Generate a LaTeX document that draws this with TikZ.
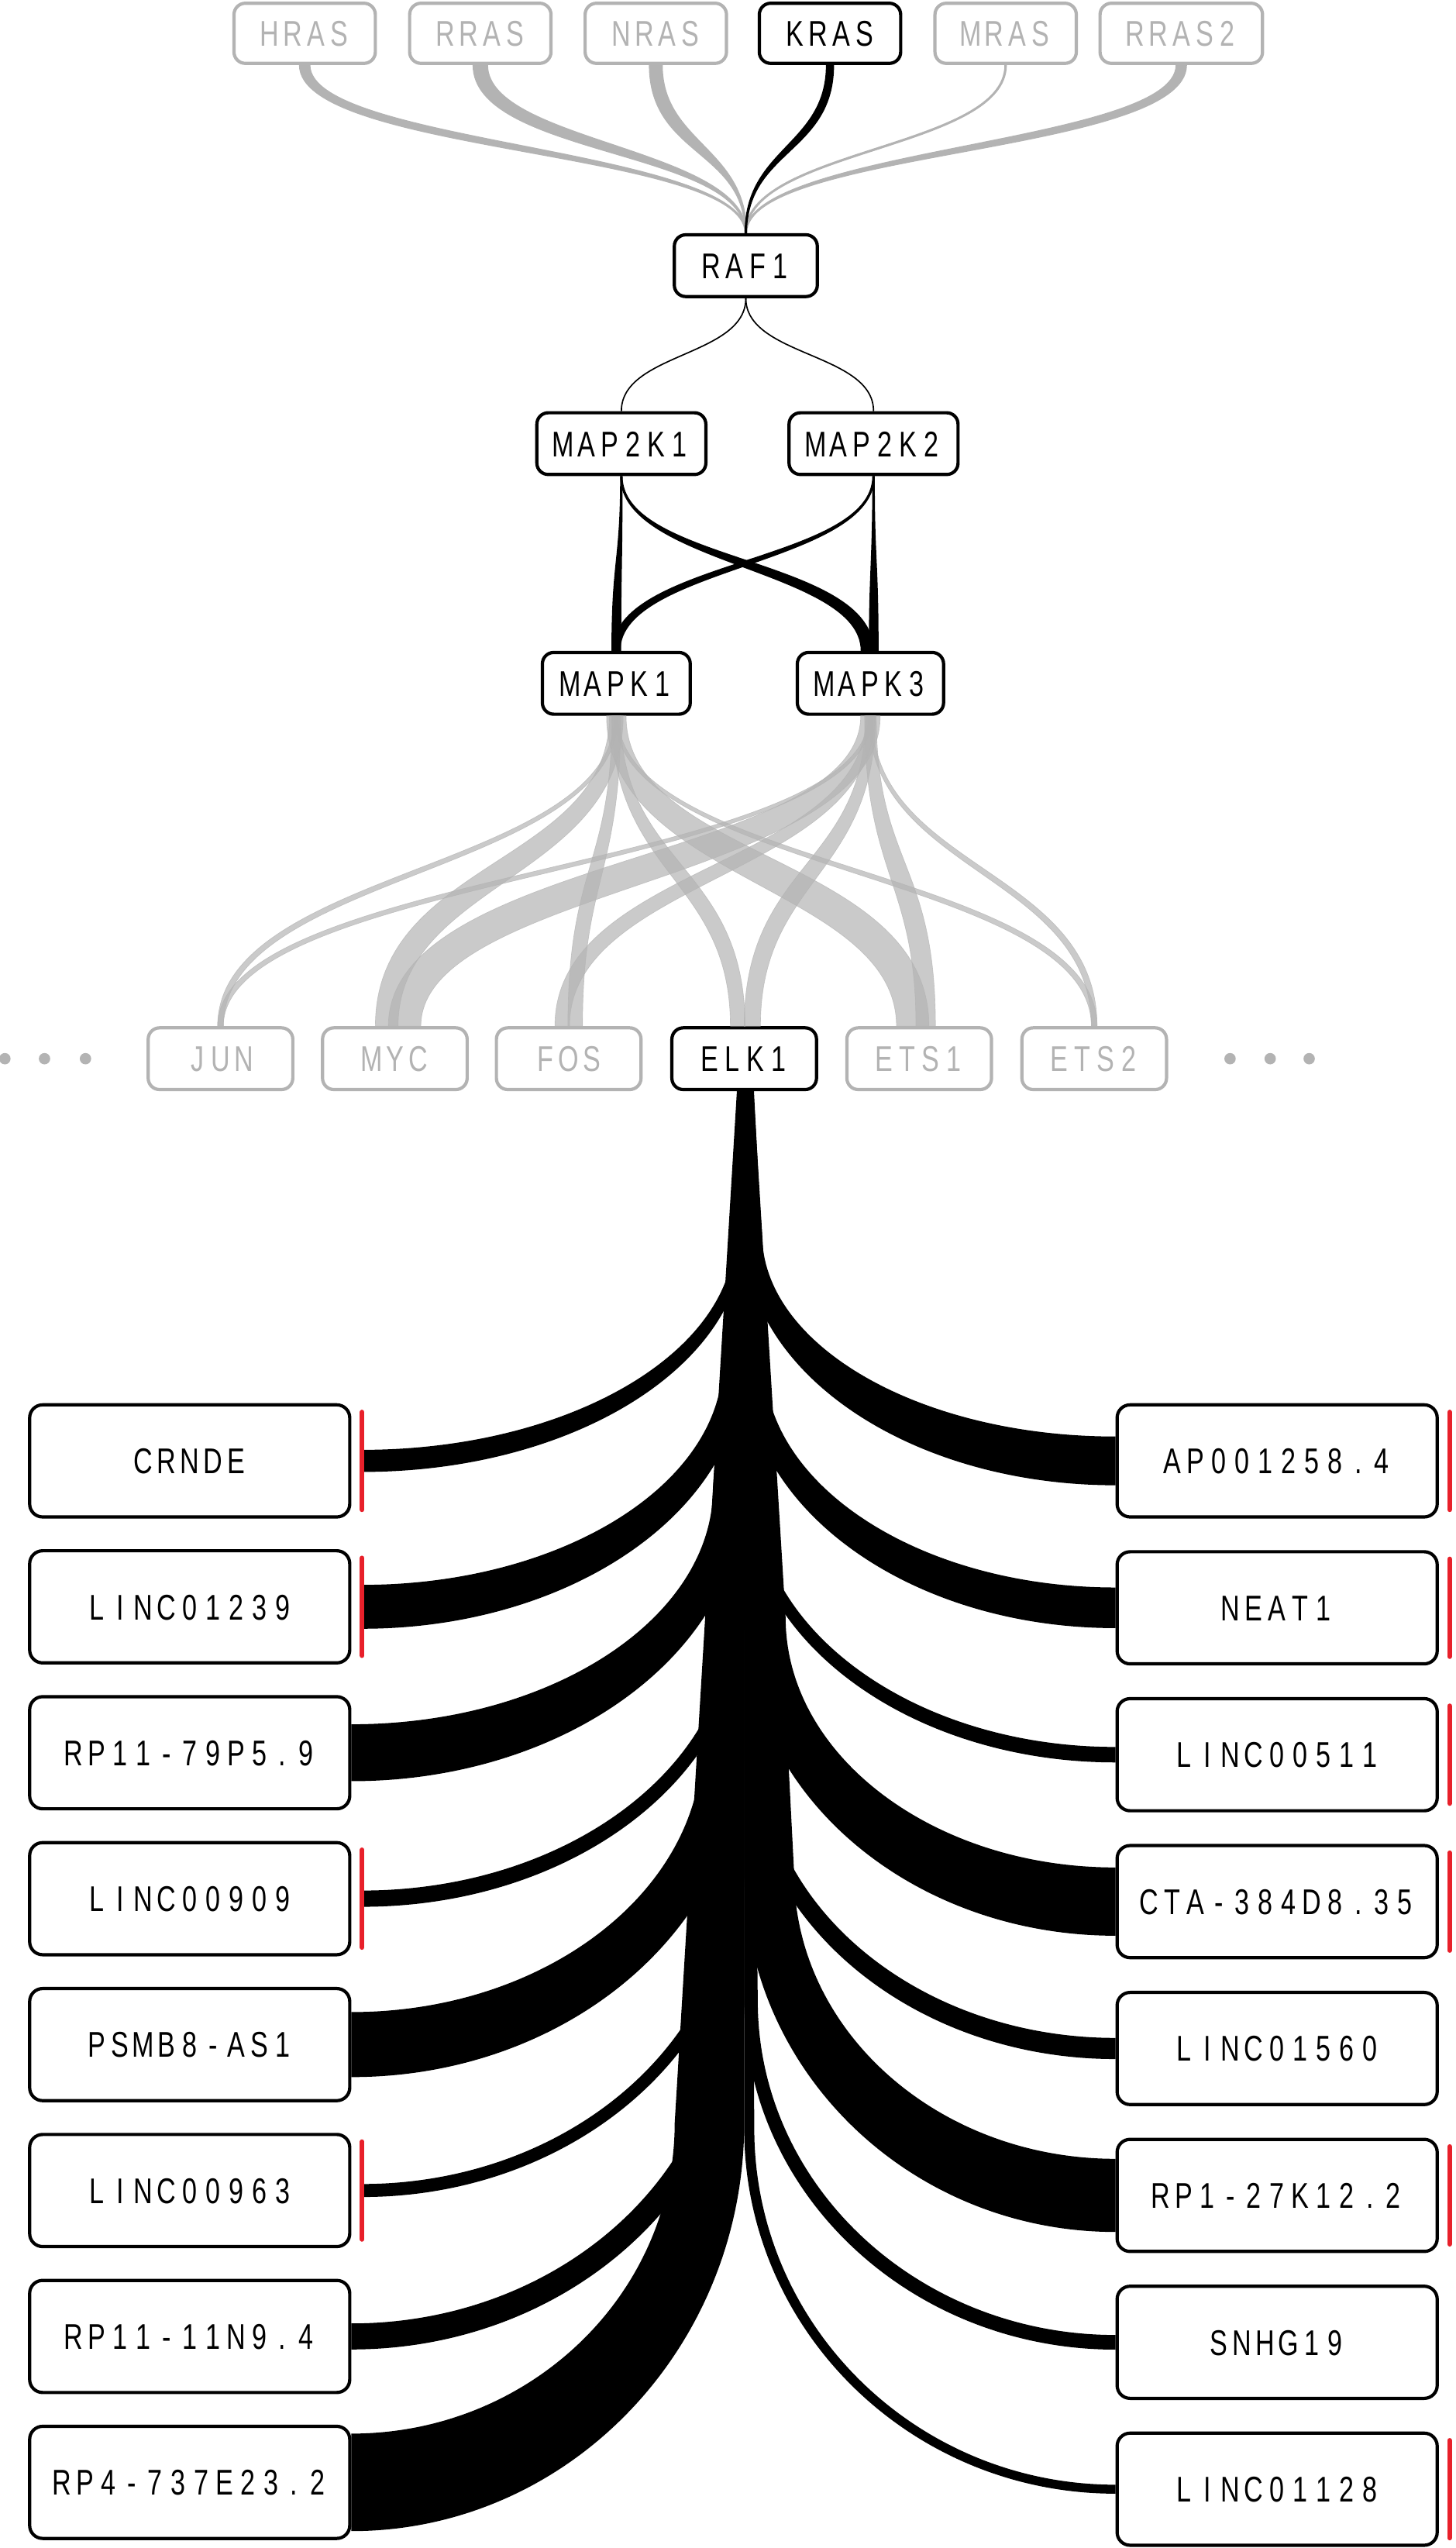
\documentclass[tikz,border=0pt]{standalone}
\usepackage{fontspec}
\usepackage{tikz}
\usetikzlibrary{calc}
\newfontfamily\genefont[FakeStretch=0.74]{Liberation Sans}
\definecolor{mutegray}{HTML}{B3B3B3}
\definecolor{barred}{HTML}{E8202A}

% fixed pitch for gene labels
\def\spacedloop#1{\ifx#1\relax\else\makebox[14.3pt]{#1}\expandafter\spacedloop\fi}
\newcommand{\spaced}[1]{\edef\gtmp{#1}\expandafter\spacedloop\gtmp\relax}

% tapered link, vertical at both ends (middle leg offset across the flow)
\def\dirsgn{ifthenelse(\x2>\x1,1,-1)}
\newcommand{\vflow}[5][]{%
  \path[#1] let \p1=(#2), \p2=(#3) in
    ({\x1-#4/2*1pt},\y1)
    .. controls ({\x1-#4/2*1pt},{(\y1+\y2)/2-\dirsgn*#4/2*1pt}) and ({\x2-#5/2*1pt},{(\y1+\y2)/2-\dirsgn*#5/2*1pt})
    .. ({\x2-#5/2*1pt},\y2)
    -- ({\x2+#5/2*1pt},\y2)
    .. controls ({\x2+#5/2*1pt},{(\y1+\y2)/2+\dirsgn*#5/2*1pt}) and ({\x1+#4/2*1pt},{(\y1+\y2)/2+\dirsgn*#4/2*1pt})
    .. ({\x1+#4/2*1pt},\y1) -- cycle;}

% ELK1 to lncRNA link: drop beside the centre line, then a quarter ellipse;
% the width grows along the whole length
\def\bendlen{(0.13*(\y1-\y2)+110pt)}
\def\droplen{(\y1-\y2-\bendlen)}
\def\bendk{0.552}
\newcommand{\lncflow}[5]{% side, from, to, start width, end width
  \fill let \p1=(#2), \p2=(#3),
      \p3=({#4*1pt+(#5-#4)*(\droplen/(\droplen+1.111*veclen(\x1-\x2,\bendlen)))},0) in
    ({\x1+(#1)*#4*1pt},\y1) -- ({\x1+(#1)*\x3},{\y2+\bendlen})
    .. controls ({\x1+(#1)*\x3},{\y2+\bendlen-\bendk*(\bendlen-#5/2*1pt)})
            and ({\x2+\bendk*(\x1+(#1)*\x3-\x2)},{\y2+#5/2*1pt})
    .. (\x2,{\y2+#5/2*1pt})
    -- (\x2,{\y2-#5/2*1pt})
    .. controls ({\x2+\bendk*(\x1-\x2)},{\y2-#5/2*1pt})
            and (\x1,{\y2+\bendlen-\bendk*(\bendlen+#5/2*1pt)})
    .. (\x1,{\y2+\bendlen})
    -- (\x1,\y1) -- cycle;}

\tikzset{
  gene/.style={draw, line width=2pt, rounded corners=7pt, fill=white, inner sep=0pt,
    minimum height=38pt, text height=15.8pt, text depth=0pt,
    font=\genefont\fontsize{22pt}{24pt}\selectfont},
  mute/.style={draw=mutegray, text=mutegray},
  lnc/.style={gene, minimum width=197pt, minimum height=69pt, rounded corners=8pt},
  wire/.style={line width=0.8pt},
  rasflow/.style={fill=mutegray},
  mapflow/.style={fill=black},
  tfflow/.style={fill=mutegray, fill opacity=0.7, draw=mutegray, draw opacity=0.7, line width=0.3pt},
  redbar/.style={draw=barred, line width=3pt, line cap=round},
}

\begin{document}
\begin{tikzpicture}[x=1pt, y=-1pt]
\useasboundingbox (0,0) rectangle (896,1568);

% RAS row
\foreach \lbl/\px in {HRAS/187.5, RRAS/295.6, NRAS/403.6, MRAS/618.9}
  \node[gene, mute, minimum width=87pt, minimum height=37pt] (\lbl) at (\px,20.5) {\spaced{\lbl}};
\node[gene, minimum width=87pt, minimum height=37pt] (KRAS) at (510.8,20.5) {\spaced{KRAS}};
\node[gene, mute, minimum width=100pt, minimum height=37pt] (RRAS2) at (727,20.5) {\spaced{RRAS2}};

% kinase cascade
\node[gene, minimum width=88pt] (RAF1) at (459,163.5) {\spaced{RAF1}};
\node[gene, minimum width=104pt] (MAP2K1) at (382.4,273) {\spaced{MAP2K1}};
\node[gene, minimum width=104pt] (MAP2K2) at (537.6,273) {\spaced{MAP2K2}};
\node[gene, minimum width=91pt] (MAPK1) at (379.3,420.5) {\spaced{MAPK1}};
\node[gene, minimum width=90pt] (MAPK3) at (535.7,420.5) {\spaced{MAPK3}};

% transcription factors
\foreach \lbl/\px in {JUN/135.7, MYC/243, FOS/350, ETS1/565.7, ETS2/673.4}
  \node[gene, mute, minimum width=89pt] (\lbl) at (\px,651.5) {\spaced{\lbl}};
\node[gene, minimum width=89pt] (ELK1) at (458,651.5) {\spaced{ELK1}};
\foreach \px in {3,27.4,52.6,757,781.7,805.7}
  \fill[mutegray] (\px,651.5) circle (3.5pt);

% RAS to RAF1
\foreach \src/\w in {HRAS/7, RRAS/9.5, NRAS/8.5, MRAS/1.5, RRAS2/7}
  {\vflow[rasflow]{\src.south}{RAF1.north}{\w}{1.5}}
\vflow[mapflow]{KRAS.south}{RAF1.north}{5}{1.5}

% RAF1 to MAP2K
\draw[wire] (RAF1.south) .. controls +(0,36) and +(0,-36) .. (MAP2K1.north);
\draw[wire] (RAF1.south) .. controls +(0,36) and +(0,-36) .. (MAP2K2.north);

% MAP2K to MAPK
\vflow[mapflow]{MAP2K1.south}{MAPK1.north}{1.5}{6}
\vflow[mapflow]{MAP2K2.south}{MAPK1.north}{1.5}{5}
\vflow[mapflow]{MAP2K1.south}{[xshift=-2pt]MAPK3.north}{1.5}{8}
\vflow[mapflow]{MAP2K2.south}{[xshift=2pt]MAPK3.north}{1.5}{6}

% MAPK to transcription factors
\foreach \src/\tgt/\dx/\w in {MAPK1/JUN/0/3.5, MAPK1/MYC/-5/14, MAPK1/FOS/4/9,
    MAPK1/ELK1/-4/9, MAPK1/ETS1/-4/20, MAPK1/ETS2/0/3.5,
    MAPK3/JUN/0/3.5, MAPK3/MYC/6/20, MAPK3/FOS/-4/9,
    MAPK3/ELK1/5/10, MAPK3/ETS1/4/12, MAPK3/ETS2/0/3.5}
  {\vflow[tfflow]{\src.south}{[xshift=\dx pt]\tgt.north}{0.6*\w}{\w}}

% lncRNAs, left column
\foreach \lbl/\w/\hasbar [count=\i] in {CRNDE/13.6/1, LINC01239/27/1, RP11-79P5.9/35/0,
    LINC00909/10/1, PSMB8-AS1/40/0, LINC00963/8/1, RP11-11N9.4/16/0, RP4-737E23.2/60/0} {
  \node[lnc] (lnL\i) at (116.75,{899+89.8*(\i-1)}) {\spaced{\lbl}};
  \coordinate (lnL\i-in) at ([xshift=\hasbar*6.6pt]lnL\i.east);
  \lncflow{-1}{ELK1.south}{lnL\i-in}{\w/10+1.5}{\w}
  \ifnum\hasbar=1
    \draw[redbar] ([yshift=30pt]lnL\i-in) -- ([yshift=-30pt]lnL\i-in);
  \fi
}

% lncRNAs, right column
\foreach \lbl/\w/\hasbar [count=\i] in {AP001258.4/30/1, NEAT1/25/1, LINC00511/9.5/1,
    CTA-384D8.35/42/1, LINC01560/13/0, RP1-27K12.2/45/1, SNHG19/9/0, LINC01128/5.5/1} {
  \node[lnc] (lnR\i) at (786,{899+90.4*(\i-1)}) {\spaced{\lbl}};
  \lncflow{1}{ELK1.south}{lnR\i.west}{\w/10+1.5}{\w}
  \ifnum\hasbar=1
    \draw[redbar] ([xshift=6.6pt,yshift=30pt]lnR\i.east) -- ([xshift=6.6pt,yshift=-30pt]lnR\i.east);
  \fi
}
\end{tikzpicture}
\end{document}
